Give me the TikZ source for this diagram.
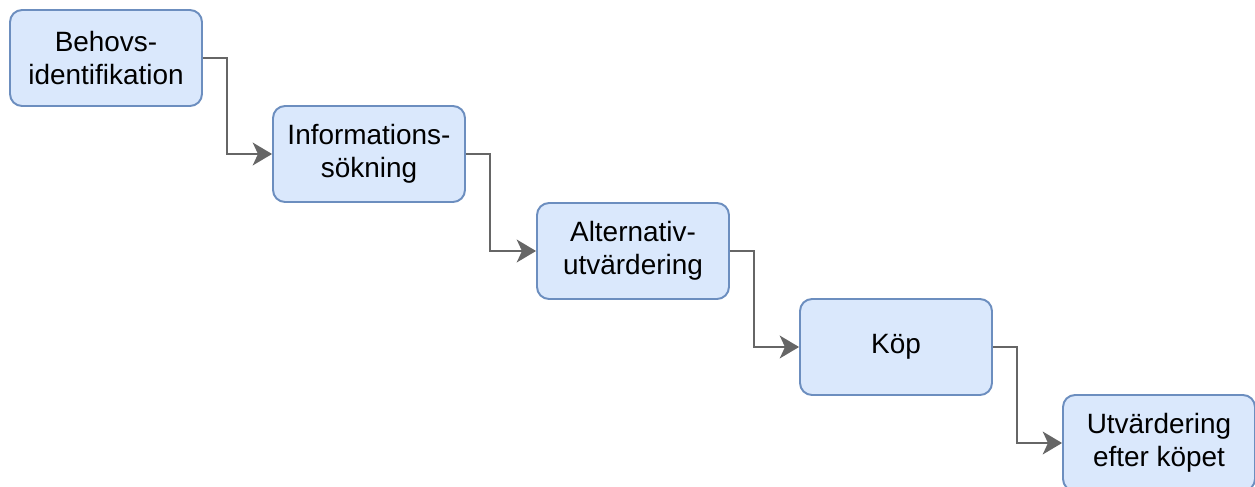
\documentclass[tikz,border=0pt]{standalone}
\usepackage{fontspec}
\setmainfont{Liberation Sans}
\usetikzlibrary{arrows.meta}

\definecolor{stepfill}{HTML}{DAE8FC}
\definecolor{stepline}{HTML}{6C8EBF}
\definecolor{connline}{HTML}{666666}

\begin{document}
\begin{tikzpicture}[x=0.02cm, y=-0.02cm,
    stage/.style={draw=stepline, fill=stepfill, line width=1.1pt, rounded corners=0.24cm,
      minimum width=3.84cm, minimum height=1.92cm, inner sep=0pt, align=center,
      font=\fontsize{15.9}{18.8}\selectfont},
    conn/.style={draw=connline, line width=1.1pt, -{Stealth[length=11pt, width=13pt, inset=3pt]}}]
      \useasboundingbox (0,0) rectangle (1255,487);

      \node[stage] (behov) at (106,58) {Behovs-\\identifikation};
      \node[stage] (info) at (369,154) {Informations-\\sökning};
      \node[stage] (alt) at (633,251) {Alternativ-\\utvärdering};
      \node[stage] (kop) at (896,347) {Köp};
      \node[stage] (efter) at (1159,443) {Utvärdering\\efter köpet};

      \draw[conn] (behov.east) -- ++(24,0) |- (info.west);
      \draw[conn] (info.east) -- ++(24,0) |- (alt.west);
      \draw[conn] (alt.east) -- ++(24,0) |- (kop.west);
      \draw[conn] (kop.east) -- ++(24,0) |- (efter.west);
    \end{tikzpicture}
\end{document}
